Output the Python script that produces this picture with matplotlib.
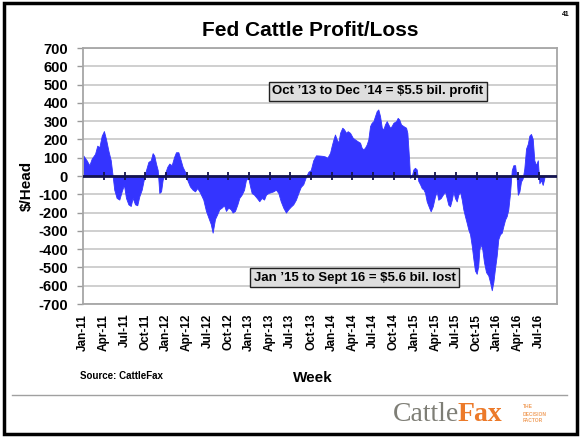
import matplotlib
matplotlib.use("Agg")
import matplotlib.pyplot as plt
from matplotlib.patches import Rectangle
from matplotlib.lines import Line2D

plt.rcParams['font.family'] = ['Liberation Sans', 'DejaVu Sans']

# ---- data (weeks since start of Jan 2011, $/head) ----
weeks = [0, 2.1, 3.8, 5.3, 7.4, 8.8, 10.1, 11.6, 13.0, 14.3, 15.8, 17.3, 18.5, 19.5, 21.0, 22.7,
         24.2, 25.6, 26.9, 28.4, 29.9, 31.1, 32.6, 34.0, 35.3, 36.8, 38.3, 39.5, 41.0, 42.5, 43.7,
         44.7, 45.8, 46.9, 47.9, 49.0, 50.0, 51.5, 52.9, 54.2, 55.7, 57.2, 58.4, 59.9, 61.4, 62.6,
         64.1, 65.5, 67.2, 68.9, 70.4, 71.8, 73.5, 75.6, 77.3, 78.8, 80.3, 81.5, 83.0, 84.4, 85.7,
         87.2, 88.7, 89.9, 91.4, 92.9, 94.1, 95.6, 97.1, 98.3, 99.8, 101.3, 102.5, 104.0, 105.1,
         106.1, 107.6, 109.3, 110.9, 112.4, 113.9, 115.1, 116.6, 118.1, 119.7, 121.4, 122.9, 124.4,
         126.0, 127.7, 129.2, 130.7, 132.3, 134.0, 135.5, 137.0, 138.6, 140.3, 141.8, 143.3, 144.9,
         146.6, 148.7, 150.9, 152.3, 153.8, 155.5, 156.5, 157.6, 158.6, 159.7, 160.7, 161.8, 163.2,
         164.3, 165.6, 166.6, 168.1, 169.8, 171.2, 172.7, 174.4, 175.4, 176.4, 177.5, 178.6, 179.6,
         180.7, 181.7, 182.8, 183.8, 184.9, 185.9, 187.0, 188.1, 189.1, 190.1, 191.2, 192.2, 193.3,
         194.3, 195.4, 197.1, 198.1, 199.1, 200.2, 201.7, 203.4, 204.2, 205.3, 205.9, 207.0, 208.0,
         209.0, 210.1, 211.1, 212.2, 213.3, 214.3, 215.3, 216.4, 218.0, 218.9, 220.2, 221.6, 222.7,
         223.7, 225.2, 226.5, 227.9, 229.0, 230.0, 231.1, 232.2, 233.2, 234.2, 235.3, 236.3, 237.4,
         238.5, 239.5, 240.5, 241.6, 242.6, 243.7, 244.8, 245.8, 246.8, 247.9, 248.9, 249.6, 250.4,
         251.4, 252.5, 253.8, 255.2, 256.3, 257.4, 258.4, 259.4, 260.5, 261.5, 262.6, 263.7, 264.7,
         265.8, 266.8, 267.8, 268.9, 270.0, 271.0, 272.1, 273.1, 273.8, 274.8, 275.8, 276.9, 277.9,
         279.0, 280.1, 281.1, 282.1, 283.2, 284.2, 285.3, 286.4, 287.4, 288.4, 289.5, 290.5]

profit = [112, 86, 59, 95, 121, 166, 157, 220, 246, 202, 139, 86, 0, -75, -120, -129,
          -84, -48, -120, -155, -164, -120, -155, -160, -111, -75, -12, 32, 77, 86, 125,
          112, 68, 32, -93, -84, -21, 14, 50, 68, 59, 104, 130, 130, 86, 50,
          23, -21, -57, -75, -84, -66, -90, -129, -191, -227, -262, -310, -235, -209, -182,
          -173, -160, -191, -173, -182, -200, -191, -155, -120, -102, -75, -21, -12, -57,
          -93, -102, -120, -138, -120, -129, -102, -93, -89, -84, -75, -93, -138,
          -173, -200, -182, -168, -155, -129, -93, -60, -45, -4, 23, 32, 86,
          113, 112, 110, 107, 100, 127, 164, 200, 227, 200, 182, 236, 264,
          255, 236, 245, 236, 209, 200, 191, 182, 155, 145, 155, 173, 200,
          273, 291, 300, 327, 355, 364, 327, 264, 255, 282, 300, 282, 264,
          273, 291, 300, 318, 309, 282, 273, 264, 236, 91, -10, 0, 36,
          45, 36, -27, -45, -67, -73, -91, -139, -175, -193, -166, -112, -85,
          -130, -121, -103, -85, -121, -157, -166, -130, -85, -121, -139, -103, -85,
          -130, -184, -220, -256, -292, -319, -382, -454, -517, -535, -490, -400, -373,
          -400, -472, -526, -544, -580, -625, -580, -508, -436, -346, -319, -310, -274,
          -238, -220, -184, -94, 32, 59, 59, -13, -103, -85, -31, -13, 41,
          150, 176, 221, 230, 203, 86, 59, 86, -40, -22, -49, -13]

quarter_labels = ['Jan-11', 'Apr-11', 'Jul-11', 'Oct-11', 'Jan-12', 'Apr-12', 'Jul-12', 'Oct-12',
                  'Jan-13', 'Apr-13', 'Jul-13', 'Oct-13', 'Jan-14', 'Apr-14', 'Jul-14', 'Oct-14',
                  'Jan-15', 'Apr-15', 'Jul-15', 'Oct-15', 'Jan-16', 'Apr-16', 'Jul-16']
weeks_per_quarter = 52.18 / 4
quarter_pos = [i * weeks_per_quarter for i in range(len(quarter_labels))]
y_ticks = list(range(-700, 701, 100))

note_profit = "Oct \u201913 to Dec \u201914 = $5.5 bil. profit"
note_loss = "Jan \u201915 to Sept 16 = $5.6 bil. lost"

# ---- figure ----
W, H = 581, 437
fig = plt.figure(figsize=(W / 100, H / 100), dpi=100)
ax = fig.add_axes([83.3 / W, 1 - 304 / H, (557 - 83.3) / W, (304 - 48) / H])

ax.set_xlim(0, 298.5)
ax.set_ylim(-700, 700)

for v in y_ticks:
    ax.axhline(v, color='#cccccc', lw=1.3, zorder=1)

ax.fill_between(weeks, profit, 0, color='#3434ff', lw=0.6, edgecolor='#3434ff', zorder=2)
ax.axhline(0, color='#141450', lw=2.0, zorder=3)
ax.plot(quarter_pos[1:], [0] * (len(quarter_pos) - 1), ls='none', marker='|',
        ms=6, mew=1.3, color='#141450', zorder=4)

ax.set_yticks(y_ticks)
ax.set_yticklabels([str(v) for v in y_ticks], fontsize=10.5, fontweight='bold')
ax.tick_params(axis='y', length=4, width=1, color='#999999', pad=7)

ax.set_xticks(quarter_pos)
ax.set_xticklabels(quarter_labels, rotation=90, fontsize=8.5, fontweight='bold')
ax.tick_params(axis='x', length=0, pad=7)

for s in ax.spines.values():
    s.set_color('#a6a6a6')
    s.set_linewidth(1.3)

box = dict(boxstyle='square,pad=0.28', facecolor='#dedede', edgecolor='#222222', lw=1)
ax.text(185.7, 463, note_profit, ha='center', va='center', fontsize=9.5,
        fontweight='bold', bbox=box, zorder=6)
ax.text(170.9, -556, note_loss, ha='center', va='center', fontsize=9.5,
        fontweight='bold', bbox=box, zorder=6)

# ---- figure texts ----
fig.text(310 / W, 1 - 30 / H, 'Fed Cattle Profit/Loss', ha='center', va='center',
         fontsize=15, fontweight='bold')
fig.text(566 / W, 1 - 14 / H, '41', ha='center', va='center', fontsize=5, fontweight='bold')
fig.text(27 / W, 1 - 186 / H, '$/Head', rotation=90, ha='center', va='center',
         fontsize=11, fontweight='bold')
fig.text(313 / W, 1 - 378 / H, 'Week', ha='center', va='center', fontsize=11, fontweight='bold')
fig.text(80 / W, 1 - 376 / H, 'Source: CattleFax', ha='left', va='center', fontsize=7,
         fontweight='bold')

fig.add_artist(Line2D([12 / W, 567 / W], [1 - 395 / H, 1 - 395 / H], color='#a0a0a0', lw=1))

t1 = fig.text(393 / W, 1 - 421 / H, 'Cattle', ha='left', va='baseline',
              family='Liberation Serif', fontsize=20, color='#7e7e76')
ax.annotate('Fax', xy=(1, 0), xycoords=t1, xytext=(-1.5, 0), textcoords='offset points',
            ha='left', va='bottom', family='Liberation Serif', fontsize=20,
            fontweight='bold', color='#ec7a2a', annotation_clip=False)
for i, line in enumerate(['THE', 'DECISION', 'FACTOR']):
    fig.text(523 / W, 1 - (407 + 7 * i) / H, line, ha='left', va='center', fontsize=3.5,
             color='#f0a060', fontweight='bold')

fig.add_artist(Rectangle((4 / W, 3 / H), (577 - 4) / W, (434 - 3) / H, transform=fig.transFigure,
                         fill=False, edgecolor='black', lw=2.5))

fig.savefig('out.png', dpi=100)
